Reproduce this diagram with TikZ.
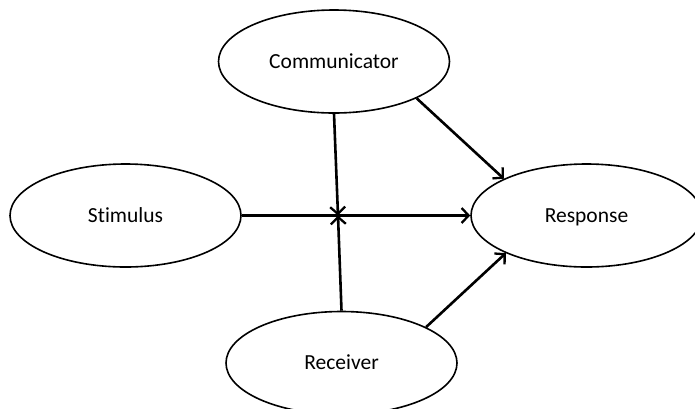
\documentclass[tikz,border=0pt]{standalone}
\usepackage{fontspec}
\setmainfont{Carlito}[Ligatures=CommonOff]
\usetikzlibrary{shapes.geometric,arrows.meta}

\tikzset{
  stage/.style={ellipse, draw=black, line width=1.6bp, fill=white,
    minimum width=231bp, minimum height=103bp, inner sep=0pt,
    text height=13.4bp, text depth=0pt,
    font=\fontsize{21.5bp}{25bp}\selectfont},
  link/.style={draw=black, line width=2.6bp,
    -{Straight Barb[length=7bp,width=15bp,line width=2.3bp]}}
}

\begin{document}
\begin{tikzpicture}[x=1bp,y=-1bp]
  \useasboundingbox (0,0) rectangle (695,408);
  \clip (0,0) rectangle (695,408);

  % the four stages of the model
  \node[stage] (comm) at (334,61.5)    {Communicator};
  \node[stage] (stim) at (125.5,215.5) {Stimulus};
  \node[stage] (resp) at (586.5,215.5) {Response};
  \node[stage] (recv) at (341.5,363)   {Receiver};

  % point where the vertical influences meet the main path
  \coordinate (meet) at (338,215.5);

  % connectors
  \draw[link] (stim.east) -- (resp.west);
  \draw[link] (comm.south) -- (meet);
  \draw[link] (recv.north) -- (meet);
  \draw[link] (comm.-24) -- (resp.156);
  \draw[link] (recv.23) -- (resp.205);
\end{tikzpicture}
\end{document}
